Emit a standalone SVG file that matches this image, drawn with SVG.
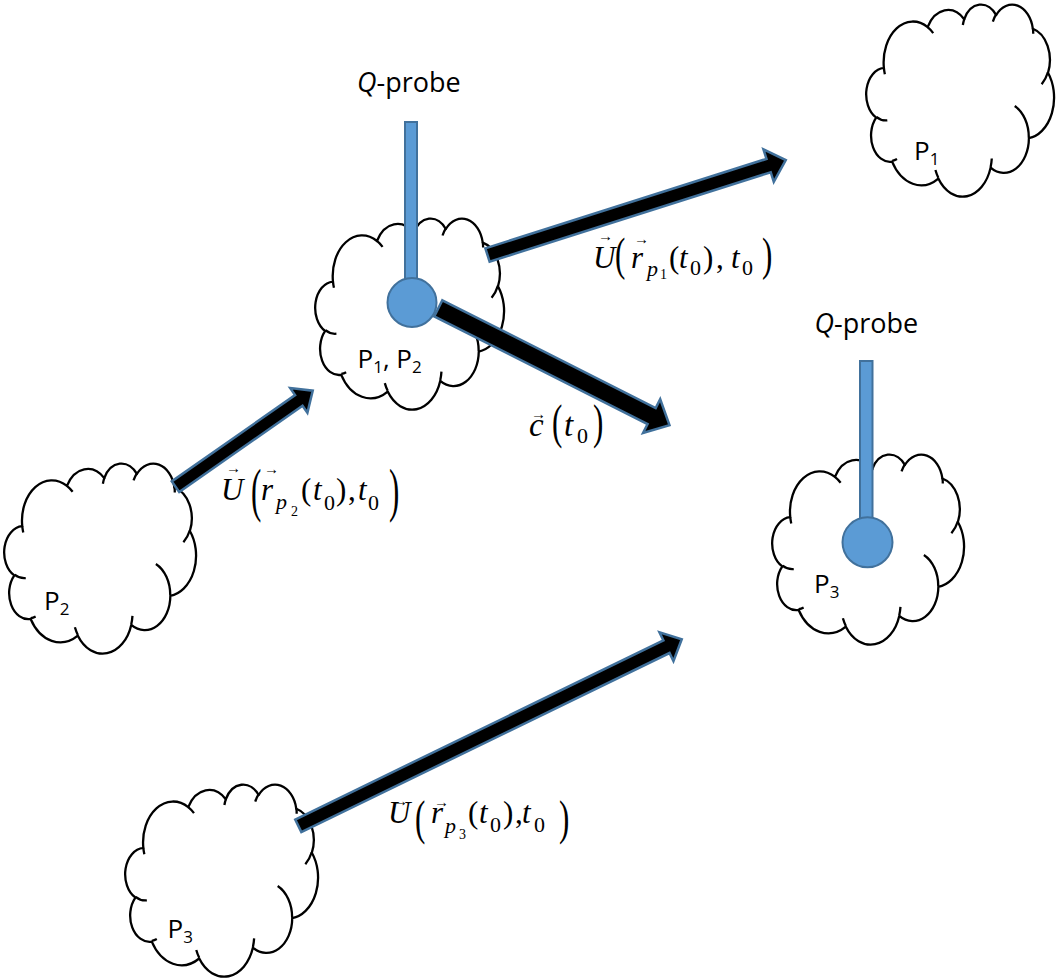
<svg xmlns="http://www.w3.org/2000/svg" width="1062" height="979" viewBox="0 0 1062 979">
  <style>
    .cl { fill: #ffffff; stroke: #000000; stroke-width: 2.3; stroke-linejoin: round; }
    .cl-in { fill: none; stroke: #000000; stroke-width: 2.3; stroke-linecap: butt; }
    .lbl { font-family: "Open Sans", "Noto Sans", "DejaVu Sans", sans-serif; font-size: 26px; fill: #000000; }
    .q { font-size: 27px; }
    .sub { font-size: 17px; }
    .arrow { fill: #000000; stroke: #41719C; stroke-width: 2.5; stroke-linejoin: miter; }
    .probe { fill: #5B9BD5; stroke: #41719C; stroke-width: 2; }
    .m { font-family: "Liberation Serif", "Times New Roman", "DejaVu Serif", serif; font-size: 31px; fill: #000000; }
    .it { font-style: italic; }
    .s1 { font-size: 22px; }
    .s2 { font-size: 14px; }
    .vec { font-size: 15px; }
  </style>
  <defs>
    <!-- cloud outline in a 100 x 100 box, scaled per instance -->
    <g id="cloud">
      <path class="cl" vector-effect="non-scaling-stroke" d="M9.03,33.26 A15.63,21.27 0 0 1 32.42,12.04 A12.34,16.82 0 0 1 51.98,7.95 A10.10,13.76 0 0 1 69.06,5.75 A11.24,15.27 0 0 1 88.70,12.91 A12.34,16.84 0 0 1 96.80,35.79 A15.68,21.34 0 0 1 86.58,69.91 A13.39,18.21 0 0 1 66.10,85.22 A15.63,21.33 0 0 1 38.15,90.89 A17.87,24.41 0 0 1 13.43,82.11 A10.09,13.70 0 0 1 4.89,59.14 A10.06,13.76 0 0 1 9.03,33.26 Z"/>
      <path class="cl-in" vector-effect="non-scaling-stroke" d="M10.86,60.59 A10.06,13.76 0 0 1 5.00,58.75 M16.04,80.78 A10.09,13.70 0 0 1 13.47,81.67 M38.14,90.49 A15.63,21.33 0 0 1 36.60,86.45 M66.73,80.44 A15.63,21.33 0 0 1 66.11,84.86 M79.00,53.14 A13.39,18.21 0 0 1 86.53,69.65 M96.75,35.54 A12.34,16.84 0 0 1 93.40,41.74 M88.71,12.56 A11.24,15.27 0 0 1 88.89,15.49 M67.31,9.15 A11.24,15.27 0 0 1 69.03,5.42 M51.25,10.93 A10.10,13.76 0 0 1 52.08,7.71 M32.41,12.02 A15.63,21.27 0 0 1 35.41,15.14 M9.55,36.55 A15.63,21.27 0 0 1 9.03,33.26"/>
    </g>
  </defs>

  <rect width="1062" height="979" fill="#ffffff"/>

  <!-- particle clouds -->
  <g id="cloud-p1-late">
    <use href="#cloud" transform="translate(867,4) scale(1.87,1.92)"/>
    <text class="lbl" x="914" y="160">P<tspan class="sub" dy="5">1</tspan></text>
  </g>
  <g id="cloud-p1p2">
    <use href="#cloud" transform="translate(316,218) scale(1.88,1.91)"/>
    <text class="lbl" x="357.5" y="368">P<tspan class="sub" dy="5">1</tspan><tspan dy="-5">, P</tspan><tspan class="sub" dy="5">2</tspan></text>
  </g>
  <g id="cloud-p2">
    <use href="#cloud" transform="translate(5,463) scale(1.91,1.90)"/>
    <text class="lbl" x="44" y="610">P<tspan class="sub" dy="5">2</tspan></text>
  </g>
  <g id="cloud-p3-late">
    <use href="#cloud" transform="translate(773,454) scale(1.91,1.90)"/>
    <text class="lbl" x="814" y="593">P<tspan class="sub" dy="5">3</tspan></text>
  </g>
  <g id="cloud-p3">
    <use href="#cloud" transform="translate(126,784) scale(1.92,1.92)"/>
    <text class="lbl" x="167.5" y="938">P<tspan class="sub" dy="5">3</tspan></text>
  </g>

  <!-- velocity and celerity vectors -->
  <g id="connectors">
    <path class="arrow" transform="translate(487.5,255) rotate(-17.65)" d="M0,-7 L295,-7 L295,-17 L313,0 L295,17 L295,7 L0,7 Z"/>
    <path class="arrow" transform="translate(175.5,486.7) rotate(-34.98)" d="M0,-6.5 L150.5,-6.5 L150.5,-15 L167.5,0 L150.5,15 L150.5,6.5 L0,6.5 Z"/>
    <path class="arrow" transform="translate(438.3,308.3) rotate(26.8)" d="M0,-9 L239,-9 L239,-19 L259,0 L239,19 L239,9 L0,9 Z"/>
    <path class="arrow" transform="translate(298.3,825.8) rotate(-25.94)" d="M0,-7 L409.4,-7 L409.4,-16 L426.4,0 L409.4,16 L409.4,7 L0,7 Z"/>
  </g>

  <!-- Q-probes -->
  <g id="probe-1">
    <text class="lbl q" x="357" y="92.3"><tspan font-style="italic">Q</tspan>-probe</text>
    <rect class="probe" x="405" y="122" width="12" height="170"/>
    <circle class="probe" cx="412" cy="302.5" r="24.5"/>
  </g>
  <g id="probe-2">
    <text class="lbl q" x="814.5" y="333"><tspan font-style="italic">Q</tspan>-probe</text>
    <rect class="probe" x="860" y="361" width="12.5" height="170"/>
    <circle class="probe" cx="867.5" cy="542.3" r="25"/>
  </g>

  <!-- vector labels; the tall delimiters are stretched vertically -->
  <g id="label-u-p1">
    <text class="m it" x="593" y="268">U</text>
    <text class="m vec" x="598" y="241">→</text>
    <text class="m" transform="translate(615,269.8) scale(1,1.48)">(</text>
    <text class="m it" x="631" y="268">r</text>
    <text class="m vec" x="634" y="244">→</text>
    <text class="m it s1" x="647" y="276">p</text>
    <text class="m s2" x="660" y="279">1</text>
    <text class="m" x="669" y="268">(</text>
    <text class="m it" x="679" y="268">t</text>
    <text class="m s1" x="690" y="275">0</text>
    <text class="m" x="703" y="268">)</text>
    <text class="m" x="716" y="268">,</text>
    <text class="m it" x="731" y="268">t</text>
    <text class="m s1" x="742" y="275">0</text>
    <text class="m" transform="translate(762,269.8) scale(1,1.48)">)</text>
  </g>
  <g id="label-u-p2">
    <text class="m it" x="221" y="500">U</text>
    <text class="m vec" x="226" y="473">→</text>
    <text class="m" transform="translate(251,509.5) scale(1,1.9)">(</text>
    <text class="m it" x="261" y="500">r</text>
    <text class="m vec" x="264" y="474">→</text>
    <text class="m it s1" x="276" y="509">p</text>
    <text class="m s2" x="291" y="516">2</text>
    <text class="m" x="301" y="500">(</text>
    <text class="m it" x="313" y="500">t</text>
    <text class="m s1" x="324" y="510">0</text>
    <text class="m" x="336" y="500">)</text>
    <text class="m" x="348" y="500">,</text>
    <text class="m it" x="358" y="500">t</text>
    <text class="m s1" x="368" y="510">0</text>
    <text class="m" transform="translate(389,509.5) scale(1,1.9)">)</text>
  </g>
  <g id="label-c">
    <text class="m it" x="529" y="435.7" style="font-size:33px">c</text>
    <text class="m vec" x="531" y="419">→</text>
    <text class="m" transform="translate(552,438.3) scale(1,1.55)">(</text>
    <text class="m it" x="564" y="435.7" style="font-size:33px">t</text>
    <text class="m s1" x="577" y="443">0</text>
    <text class="m" transform="translate(593,438.3) scale(1,1.55)">)</text>
  </g>
  <g id="label-u-p3">
    <text class="m it" x="388" y="823">U</text>
    <text class="m vec" x="393" y="806">→</text>
    <text class="m" transform="translate(415,834.4) scale(1,1.6)">(</text>
    <text class="m it" x="431" y="823">r</text>
    <text class="m vec" x="434" y="807">→</text>
    <text class="m it s1" x="445" y="833">p</text>
    <text class="m s2" x="459" y="839">3</text>
    <text class="m" x="468" y="823">(</text>
    <text class="m it" x="479" y="823">t</text>
    <text class="m s1" x="490" y="832">0</text>
    <text class="m" x="503" y="823">)</text>
    <text class="m" x="515" y="823">,</text>
    <text class="m it" x="522" y="823">t</text>
    <text class="m s1" x="534" y="832">0</text>
    <text class="m" transform="translate(559,834.4) scale(1,1.6)">)</text>
  </g>
</svg>
